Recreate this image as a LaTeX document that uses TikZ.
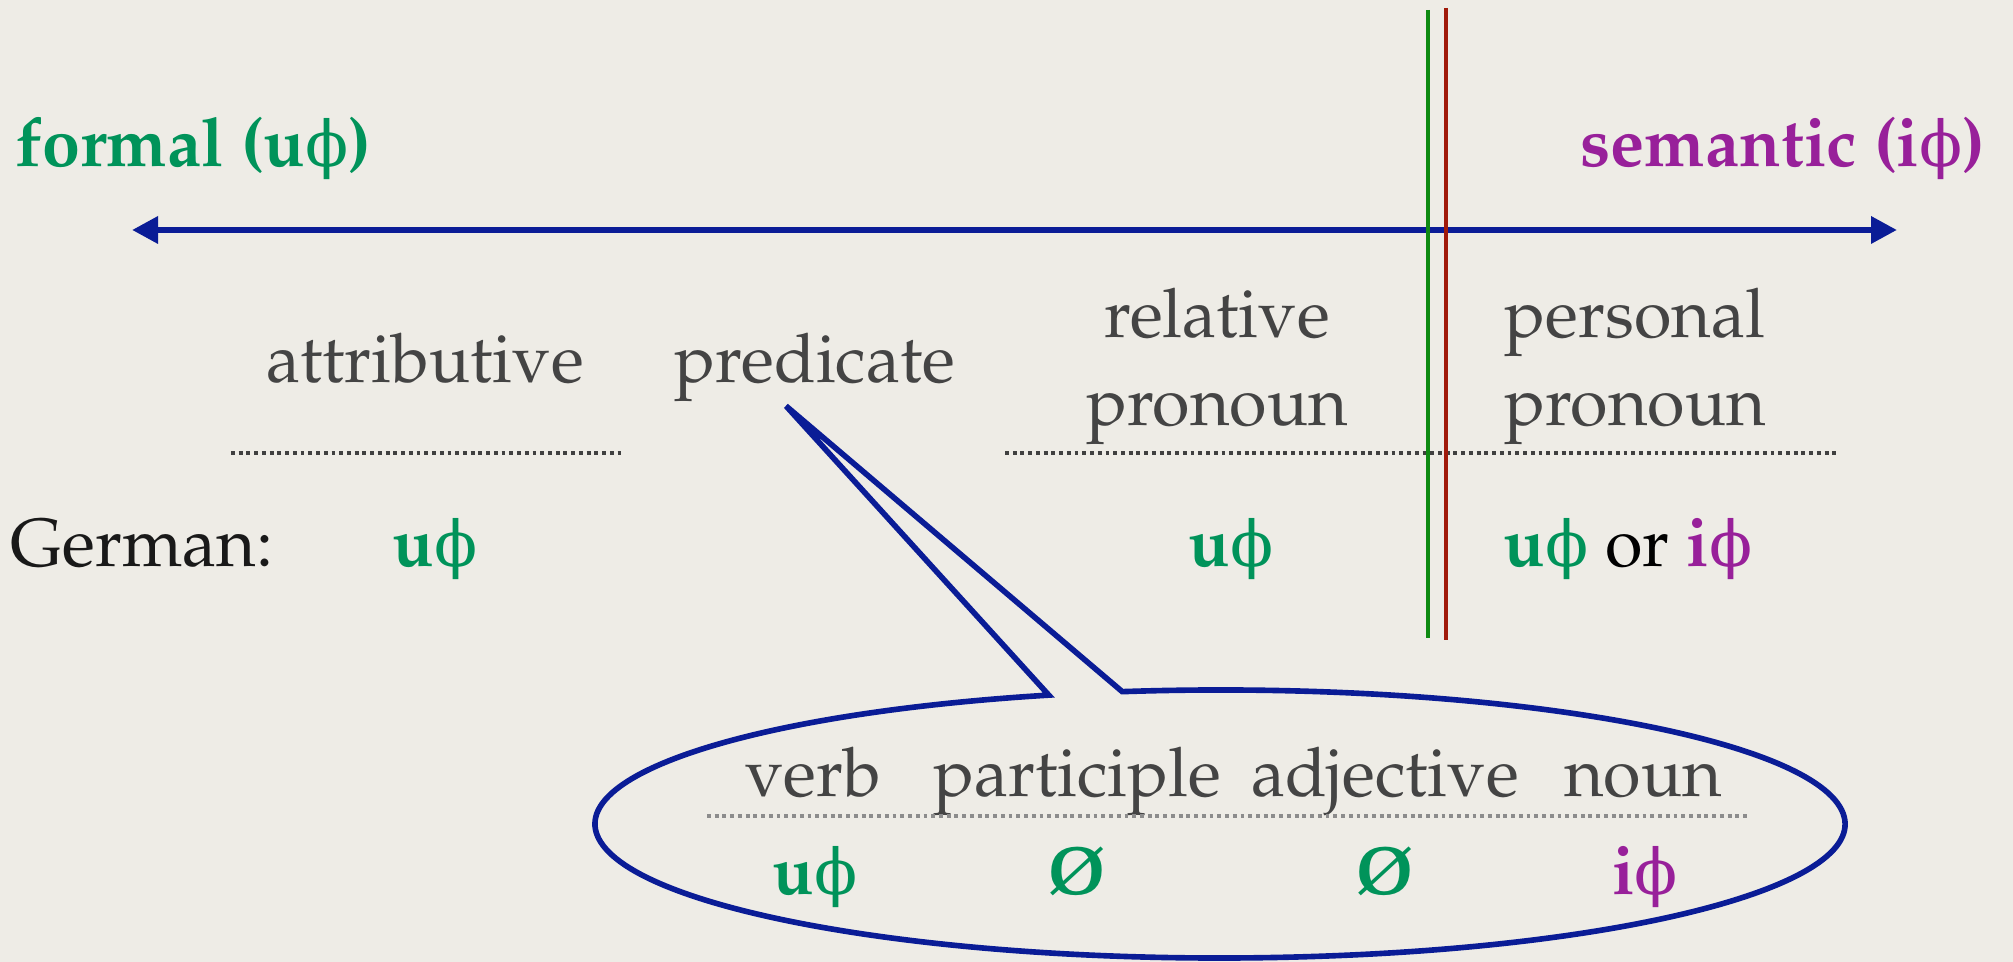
\documentclass[tikz,border=0pt]{standalone}
\usepackage[no-math]{fontspec}
\usepackage[T1]{fontenc}
\usepackage{mathpazo}
\newfontfamily\phifont{DejaVu Serif}
\usepackage{xcolor}
\definecolor{paper}{HTML}{EEECE6}
\definecolor{featgreen}{HTML}{00935A}
\definecolor{featpurple}{HTML}{98209A}
\definecolor{scalenavy}{HTML}{0A1C96}
\definecolor{cutgreen}{HTML}{0E8A12}
\definecolor{cutred}{HTML}{A01A0A}
\definecolor{labelgray}{HTML}{444444}
\usepackage{tikz}
\usetikzlibrary{arrows.meta,positioning}

\newcommand{\ph}{{\phifont\mdseries\fontsize{18}{20}\selectfont ϕ}}
\newcommand{\ufeat}{\textcolor{featgreen}{\textbf{u\ph}}}
\newcommand{\ifeat}{\textcolor{featpurple}{\textbf{i\ph}}}
\newcommand{\nofeat}{\textcolor{featgreen}{\textbf{\O}}}

\begin{document}
\begin{tikzpicture}[font=\fontsize{19.4}{25.3}\selectfont,
  lbl/.style={text=labelgray,inner sep=0pt,anchor=base,align=center},
  val/.style={inner sep=0pt,anchor=base},
  cut/.style={line width=1.4pt},
  rule/.style={line width=0.9pt,dash pattern=on 1.1pt off 1.1pt,black!75}]
  \useasboundingbox (0,0) rectangle (20.13,9.62);
  % Paper
  \fill[paper] (0,0) rectangle (20.13,9.62);
  % Scale
  \node[val,anchor=base west,text=featgreen,font=\fontsize{19.4}{25.3}\selectfont\bfseries]
    (formal) at (0.15,7.95) {formal (u\ph)};
  \node[val,anchor=base east,text=featpurple,font=\fontsize{19.4}{25.3}\selectfont\bfseries]
    (semantic) at (19.86,7.95) {semantic (i\ph)};
  \coordinate (lend) at (1.32,7.32);
  \coordinate (rend) at (18.97,7.32);
  \draw[{Triangle[length=0.26cm,width=0.26cm]}-{Triangle[length=0.26cm,width=0.26cm]},
    line width=1.8pt,scalenavy] (lend) -- (rend);
  % Targets
  \node[lbl] (attr) at (4.25,5.79) {attributive};
  \node[lbl] (pred) at (8.15,5.79) {predicate};
  \node[lbl] (relpro) at (12.17,5.36) {relative\\pronoun};
  \node[lbl] (perspro) at (16.35,5.36) {personal\\pronoun};
  \draw[rule] (2.31,5.09) -- (6.23,5.09);
  \draw[rule] (10.05,5.09) -- (18.40,5.09);
  % German row
  \node[val,anchor=base west,text=black!90] (german) at (0.10,3.95) {German:};
  \node[val] (gattr) at (4.35,3.95) {\ufeat};
  \node[val] (grel) at (12.31,3.95) {\ufeat};
  \node[val] (gpers) at (16.28,3.95) {\ufeat{} or \ifeat};
  % Cut-off lines
  \draw[cut,cutgreen] (14.28,9.52) -- (14.28,3.24);
  \draw[cut,cutred] (14.46,9.54) -- (14.46,3.22);
  % Callout for predicate
  \coordinate (tip) at (7.86,5.56);
  \coordinate (bubble) at (12.20,1.38);
  \draw[scalenavy,line width=1.6pt,line join=miter]
    (tip) -- ([shift={(99:6.25 and 1.34)}]bubble)
    arc[start angle=99,end angle=-254.1,x radius=6.25,y radius=1.34] -- cycle;
  \node[lbl] (verb) at (8.13,1.65) {verb};
  \node[lbl] (part) at (10.77,1.65) {participle};
  \node[lbl] (adj) at (13.85,1.65) {adjective};
  \node[lbl] (noun) at (16.43,1.65) {noun};
  \draw[rule,black!45] (7.07,1.46) -- (17.49,1.46);
  \node[val] (vverb) at (8.15,0.67) {\ufeat};
  \node[val] (vpart) at (10.77,0.67) {\nofeat};
  \node[val] (vadj) at (13.85,0.67) {\nofeat};
  \node[val] (vnoun) at (16.45,0.67) {\ifeat};
\end{tikzpicture}
\end{document}
